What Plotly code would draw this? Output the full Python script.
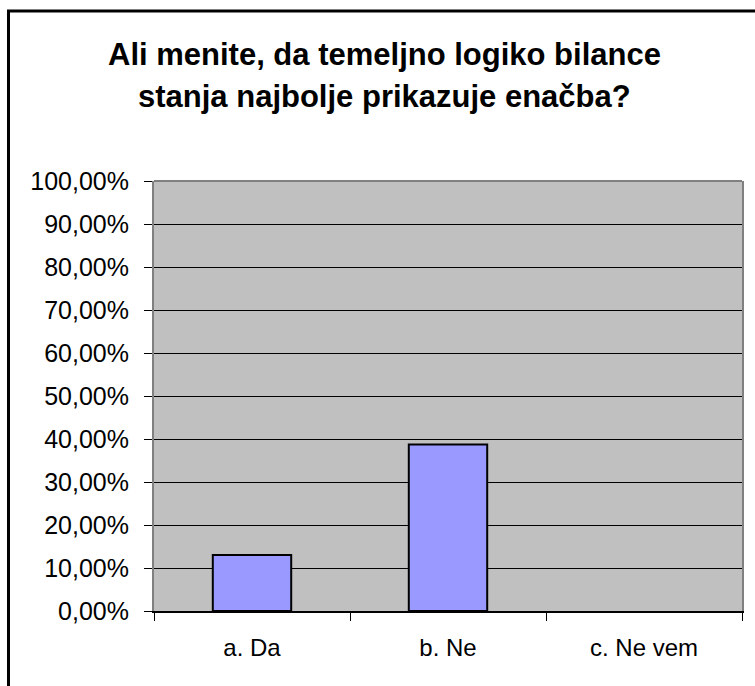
import plotly.graph_objects as go

categories = ["a. Da", "b. Ne", "c. Ne vem"]
values = [13.0, 38.7, 0.0]
tick_vals = [0, 10, 20, 30, 40, 50, 60, 70, 80, 90, 100]
tick_text = ["0,00%", "10,00%", "20,00%", "30,00%", "40,00%", "50,00%",
             "60,00%", "70,00%", "80,00%", "90,00%", "100,00%"]
title_lines = ["Ali menite, da temeljno logiko bilance",
               "stanja najbolje prikazuje enačba?"]

FONT = "Liberation Sans, Arial, sans-serif"
W, H = 755, 686
L, R, T, B = 154, 11, 181, 75
pw, ph = W - L - R, H - T - B

def px_x(x):
    return (x - L) / pw

def px_y(y):
    return (H - B - y) / ph

fig = go.Figure()
fig.add_trace(go.Bar(
    x=categories, y=values,
    marker=dict(color="#9999FF",
                line=dict(color="black", width=[2 if v > 0 else 0 for v in values])),
    width=0.4,
))

fig.update_layout(
    width=W, height=H,
    margin=dict(l=L, r=R, t=T, b=B),
    paper_bgcolor="white",
    plot_bgcolor="#C0C0C0",
    showlegend=False,
    font=dict(family=FONT, size=24, color="black"),
    xaxis=dict(
        type="category",
        showline=True, linecolor="black", linewidth=2,
        ticks="outside", tickson="boundaries", ticklen=8, tickcolor="black", tickwidth=1,
        showgrid=False,
        tickfont=dict(family=FONT, size=24, color="black"),
        ticklabelstandoff=14,
        fixedrange=True,
    ),
    yaxis=dict(
        range=[0, 100],
        tickvals=tick_vals, ticktext=tick_text,
        showline=True, linecolor="#808080", linewidth=2, mirror=True,
        ticks="outside", ticklen=8, tickcolor="black", tickwidth=1,
        showgrid=True, gridcolor="black", gridwidth=1,
        zeroline=False,
        tickfont=dict(family=FONT, size=25, color="black"),
        ticklabelstandoff=10,
        fixedrange=True,
    ),
)

# top border of plot area (gray)
fig.add_shape(type="line", xref="paper", yref="paper", x0=0, x1=1, y0=1, y1=1,
              line=dict(color="#808080", width=2), layer="above")
# outer chart frame
fig.add_shape(type="rect", xref="paper", yref="paper",
              x0=px_x(8), x1=px_x(770), y0=px_y(11), y1=px_y(700),
              line=dict(color="black", width=3), fillcolor="rgba(0,0,0,0)", layer="above")

title_y_px = [54, 97]
for text, ypx in zip(title_lines, title_y_px):
    fig.add_annotation(text="<b>" + text + "</b>", xref="paper", yref="paper",
                       x=px_x(385), y=px_y(ypx), xanchor="center", yanchor="middle",
                       showarrow=False, font=dict(family=FONT, size=31, color="black"))

fig.write_html("out.html", config={"displayModeBar": False},
               post_script="document.body.style.margin='0';")
